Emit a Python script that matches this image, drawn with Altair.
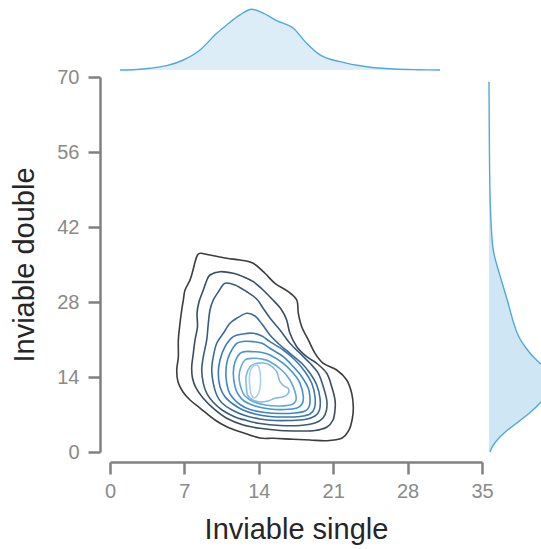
import altair as alt
import pandas as pd

# ---------------- data ----------------
x_ticks = [0, 7, 14, 21, 28, 35]
y_ticks = [0, 14, 28, 42, 56, 70]

# KDE contour levels, outermost (1) to innermost (10); (Inviable single, Inviable double)
level_1 = [(8.47, 37.09), (9.41, 36.77), (10.98, 36.16), (12.23, 35.84), (13.48, 35.23), (14.58, 33.36),
           (15.52, 31.49), (16.77, 29.92), (17.57, 28.37), (17.72, 25.89), (18.04, 23.39), (18.66, 20.91),
           (19.29, 18.42), (20.07, 16.56), (21.33, 15.31), (22.27, 13.44), (22.74, 10.96), (22.89, 8.46),
           (22.81, 6.35), (22.49, 4.11), (21.80, 2.56), (20.39, 2.11), (18.82, 2.24), (17.25, 2.37),
           (15.36, 2.56), (14.11, 2.61), (12.23, 3.79), (10.98, 4.72), (9.88, 5.97), (8.47, 8.21),
           (7.53, 9.71), (6.87, 11.20), (6.40, 13.07), (6.28, 15.31), (6.43, 17.79), (6.43, 20.91),
           (6.59, 24.08), (6.75, 26.51), (6.90, 28.37), (7.06, 30.24), (7.53, 32.11), (7.81, 33.97),
           (8.00, 35.47), (8.19, 36.59)]
level_2 = [(9.41, 33.04), (10.35, 33.66), (11.60, 33.36), (12.54, 32.72), (13.48, 31.79), (14.30, 30.43),
           (15.24, 28.56), (16.09, 26.69), (16.62, 24.64), (16.93, 22.16), (17.57, 19.66), (18.51, 17.79),
           (19.45, 16.56), (20.39, 14.69), (20.86, 12.19), (21.17, 9.71), (21.17, 7.84), (20.98, 5.97),
           (20.42, 4.67), (19.29, 4.01), (17.88, 3.92), (15.99, 4.01), (14.11, 4.42), (12.54, 5.04),
           (10.98, 6.29), (9.78, 8.03), (8.75, 10.08), (8.09, 11.95), (7.76, 13.81), (7.69, 15.92),
           (7.84, 18.42), (8.00, 20.91), (8.23, 23.39), (8.19, 25.89), (8.37, 28.00), (8.78, 30.24),
           (9.08, 31.92)]
level_3 = [(10.25, 30.05), (10.82, 31.49), (11.76, 31.17), (12.86, 29.92), (13.80, 28.56), (14.39, 26.88),
           (15.05, 25.01), (15.99, 22.77), (16.93, 20.29), (17.88, 18.42), (18.82, 16.56), (19.60, 14.69),
           (20.07, 12.19), (20.39, 9.71), (20.37, 7.84), (20.04, 6.35), (19.29, 5.41), (17.88, 4.95),
           (15.99, 4.95), (14.11, 5.32), (12.70, 5.97), (11.76, 6.53), (10.54, 7.84), (9.69, 9.33),
           (9.13, 10.83), (8.78, 12.82), (8.63, 15.31), (8.78, 17.79), (9.10, 20.91), (9.25, 24.02),
           (9.41, 26.51), (9.72, 28.37)]
level_4 = [(12.86, 25.89), (13.64, 25.39), (14.30, 23.89), (15.05, 21.84), (15.99, 19.97), (16.93, 18.42),
           (18.04, 16.56), (18.82, 14.69), (19.45, 12.51), (19.76, 10.02), (19.71, 7.84), (19.29, 6.72),
           (18.35, 6.07), (16.93, 5.88), (15.52, 5.88), (14.11, 6.16), (12.70, 6.81), (11.48, 7.84),
           (10.54, 9.15), (10.04, 10.64), (9.72, 12.82), (9.57, 15.31), (9.72, 17.79), (10.04, 20.29),
           (10.66, 22.16), (11.29, 24.02), (11.92, 24.96)]
level_5 = [(11.60, 21.52), (12.51, 22.03), (13.48, 22.16), (14.30, 21.65), (15.05, 20.59), (16.30, 19.04),
           (17.41, 17.17), (18.35, 14.99), (18.98, 12.82), (19.29, 10.32), (19.24, 8.21), (18.82, 7.09),
           (17.88, 6.63), (16.46, 6.53), (15.05, 6.63), (13.64, 7.09), (12.51, 7.84), (11.57, 8.96),
           (10.82, 10.32), (10.35, 12.19), (10.19, 14.69), (10.35, 17.17), (10.82, 19.66)]
level_6 = [(11.92, 20.29), (12.70, 20.66), (13.48, 20.60), (14.30, 20.29), (15.05, 19.36), (16.30, 17.79),
           (17.25, 15.92), (18.04, 14.06), (18.66, 11.89), (18.82, 9.71), (18.72, 8.40), (18.35, 7.65),
           (17.41, 7.28), (15.99, 7.19), (14.58, 7.37), (13.17, 7.93), (12.23, 8.87), (11.48, 10.27),
           (11.13, 11.57), (10.91, 14.06), (10.98, 16.56), (11.29, 18.42)]
level_7 = [(12.23, 18.42), (12.80, 18.76), (13.48, 18.72), (14.30, 18.57), (15.05, 18.11), (16.30, 16.56),
           (17.25, 14.69), (17.88, 12.82), (18.19, 10.32), (18.06, 8.96), (17.59, 8.21), (16.46, 7.93),
           (15.05, 8.03), (13.64, 8.59), (12.61, 9.52), (12.04, 10.83), (11.76, 12.19), (11.60, 14.69),
           (11.76, 16.86)]
level_8 = [(12.70, 17.17), (13.48, 17.49), (14.30, 17.36), (15.05, 16.86), (16.15, 15.31), (16.93, 13.44),
           (17.41, 11.26), (17.50, 9.71), (17.12, 8.87), (15.99, 8.59), (14.58, 8.77), (13.45, 9.43),
           (12.70, 10.45), (12.39, 11.57), (12.16, 13.44), (12.23, 15.31)]
level_9 = [(13.17, 15.92), (13.80, 16.56), (14.39, 16.61), (15.05, 16.24), (15.68, 14.99), (15.99, 13.12),
           (16.46, 12.19), (16.77, 11.89), (16.77, 10.96), (16.30, 10.32), (15.52, 10.02), (14.86, 9.52),
           (14.11, 9.33), (13.36, 9.80), (12.94, 10.64), (12.86, 11.57), (12.80, 14.06)]
level_10 = [(13.64, 16.24), (13.97, 15.96), (14.11, 14.93), (14.16, 12.88), (14.02, 11.20), (13.69, 10.17),
            (13.36, 10.45), (13.17, 11.95), (13.12, 14.00), (13.27, 15.49)]

levels = [level_1, level_2, level_3, level_4, level_5, level_6, level_7, level_8, level_9, level_10]
level_names = [f"L{i + 1}" for i in range(len(levels))]
level_colors = ["#3d3d3d", "#3b4c60", "#3b5b7c", "#3b6a98", "#3c79b4", "#3e87c8", "#4893d2",
                "#62a6dc", "#85bce6", "#a9d1ee"]

# marginal KDE of Inviable single (top)
top_x = [0.94, 2.5, 3.76, 5.33, 6.9, 8.47, 10.04, 10.98, 12.23, 13.33, 14.42, 15.68, 17.25,
         18.5, 19.76, 21.64, 24.15, 26.66, 29.0, 31.05]
top_density = [0.0, 0.0008, 0.0026, 0.0066, 0.0153, 0.0306, 0.0562, 0.0689, 0.0842, 0.0929,
               0.0868, 0.0754, 0.0638, 0.0409, 0.0230, 0.0127, 0.0050, 0.0015, 0.0004, 0.0]

# marginal KDE of Inviable double (right)
right_y = [0.0, 0.9, 2.2, 3.5, 5.4, 7.3, 9.1, 11.0, 13.0, 15.0, 16.6, 17.7, 19.6, 21.5, 24.1,
           27.8, 30.8, 34.0, 37.1, 40.1, 46.5, 55.0, 69.1]
right_density = [0.001, 0.0027, 0.0077, 0.0143, 0.0277, 0.041, 0.051, 0.060, 0.064, 0.060,
                 0.051, 0.0443, 0.036, 0.0293, 0.0243, 0.0193, 0.0143, 0.0093, 0.0043, 0.0027,
                 0.001, 0.0004, 0.0]

# ---------------- tables ----------------
rows = []
for name, pts in zip(level_names, levels):
    for i, (xv, yv) in enumerate(pts):
        rows.append({"level": name, "i": i, "x": xv, "y": yv})
contour_df = pd.DataFrame(rows)
top_df = pd.DataFrame({"x": top_x, "d": top_density})
right_df = pd.DataFrame({"y": right_y, "d": right_density})

AXIS_GRAY = "#808080"
LABEL_GRAY = "#8a8a8a"
TITLE_COLOR = "#262626"
MARG_LINE = "#4fa9df"
MARG_FILL = "#cfe6f5"

x_axis = alt.Axis(values=x_ticks, title="Inviable single", grid=False, offset=10,
                  domainColor=AXIS_GRAY, domainWidth=2.5, tickColor=AXIS_GRAY, tickWidth=2.5,
                  tickSize=12, labelFontSize=20, labelColor=LABEL_GRAY, labelPadding=7,
                  titleFontSize=29, titleFontWeight="normal", titleColor=TITLE_COLOR,
                  titlePadding=14, labelFlush=False)
y_axis = alt.Axis(values=y_ticks, title="Inviable double", grid=False, offset=10,
                  domainColor=AXIS_GRAY, domainWidth=2.5, tickColor=AXIS_GRAY, tickWidth=2.5,
                  tickSize=12, labelFontSize=20, labelColor=LABEL_GRAY, labelPadding=9,
                  titleFontSize=29, titleFontWeight="normal", titleColor=TITLE_COLOR,
                  titlePadding=17, labelFlush=False)

contours = alt.Chart(contour_df).mark_line(strokeWidth=1.6, interpolate="cardinal-closed").encode(
    x=alt.X("x:Q", scale=alt.Scale(domain=[0, 35], nice=False, zero=False), axis=x_axis),
    y=alt.Y("y:Q", scale=alt.Scale(domain=[0, 70], nice=False, zero=False), axis=y_axis),
    color=alt.Color("level:N", scale=alt.Scale(domain=level_names, range=level_colors), legend=None),
    detail="level:N",
    order="i:Q",
)

top = alt.Chart(top_df).mark_area(
    interpolate="monotone", color=MARG_FILL, line={"color": MARG_LINE, "strokeWidth": 1.4}
).encode(
    x=alt.X("x:Q", scale=alt.Scale(domain=[0, 35], nice=False, zero=False), axis=None),
    y=alt.Y("d:Q", scale=alt.Scale(domain=[0, 0.1], range=[-7, -72.4], nice=False), axis=None,
            stack=None),
    y2=alt.datum(0),
)

right_y_scale = alt.Scale(domain=[0, 70], nice=False, zero=False)
right_x_scale = alt.Scale(domain=[0, 0.06], range=[379, 439], nice=False)

right_fill = alt.Chart(right_df).mark_area(
    orient="horizontal", interpolate="basis", color=MARG_FILL
).encode(
    y=alt.Y("y:Q", scale=right_y_scale, axis=None),
    x=alt.X("d:Q", scale=right_x_scale, axis=None),
)

right_line = alt.Chart(right_df).mark_line(
    interpolate="basis", color=MARG_LINE, strokeWidth=1.4
).encode(
    y=alt.Y("y:Q", scale=right_y_scale, axis=None),
    x=alt.X("d:Q", scale=right_x_scale, axis=None),
    order=alt.Order("y:Q", sort="ascending"),
)

chart = alt.layer(right_fill, right_line, top, contours).resolve_scale(
    x="independent", y="independent", color="independent"
).properties(
    width=372, height=375, autosize="none",
    padding={"left": 110, "top": 77, "right": 59, "bottom": 97},
).configure(
    font="Liberation Sans"
).configure_view(strokeWidth=0)

chart.save("out.html", embed_options={"renderer": "svg", "actions": False})
